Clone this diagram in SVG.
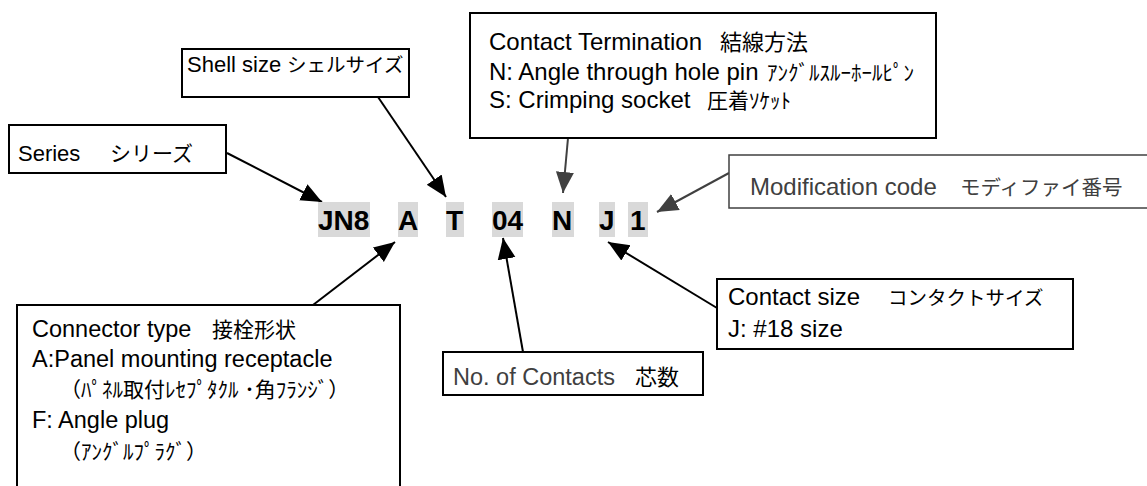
<svg xmlns="http://www.w3.org/2000/svg" width="1147" height="486" viewBox="0 0 1147 486">
<style>
text { font-family: "Liberation Sans", "Noto Sans CJK JP", sans-serif; font-size: 24px; fill: #000; }
.s22 { font-size: 22px; }
.s235 { font-size: 23.5px; }
.hw { font-size: 21px; }
.box { fill: #fff; stroke: #000; stroke-width: 2; }
.gbox { fill: #fff; stroke: #404040; stroke-width: 1.5; }
.gt { fill: #404040; }
.code { font-size: 28px; font-weight: bold; }
.hl { fill: #d9d9d9; }
.conn { stroke: #000; stroke-width: 2; fill: none; marker-end: url(#ah); }
.conng { stroke: #404040; stroke-width: 2; fill: none; marker-end: url(#ahg); }
</style>
<defs>
<marker id="ah" markerUnits="userSpaceOnUse" markerWidth="22" markerHeight="20" refX="21" refY="10" orient="auto"><path d="M0,1 L21,10 L0,19 Z" fill="#000"/></marker>
<marker id="ahg" markerUnits="userSpaceOnUse" markerWidth="22" markerHeight="20" refX="21" refY="10" orient="auto"><path d="M0,1 L21,10 L0,19 Z" fill="#404040"/></marker>
</defs>
<rect width="1147" height="486" fill="#fff"/>
<g id="connectors">
<line class="conn" x1="227" y1="153" x2="322" y2="202"/>
<line class="conn" x1="378" y1="97" x2="446" y2="197"/>
<line class="conng" x1="568" y1="138" x2="563" y2="193"/>
<line class="conng" x1="729" y1="173" x2="657" y2="212"/>
<line class="conn" x1="313" y1="305" x2="395" y2="242"/>
<line class="conn" x1="523" y1="352" x2="503" y2="238"/>
<line class="conn" x1="717" y1="308" x2="608" y2="242"/>
</g>
<g id="series">
<rect class="box" x="9" y="125" width="217" height="48"/>
<text class="s22" x="18" y="161">Series<tspan x="110" font-size="21">シリーズ</tspan></text>
</g>
<g id="shell">
<rect class="box" x="182" y="49" width="227" height="48"/>
<text class="s22" x="187" y="72">Shell size<tspan x="287" font-size="19.5">シェルサイズ</tspan></text>
</g>
<g id="termination">
<rect class="box" x="470" y="13" width="466" height="125"/>
<text x="489" y="50">Contact Termination<tspan x="720" font-size="22">結線方法</tspan></text>
<text x="489" y="80">N: Angle through hole pin<tspan class="hw" x="767">ｱﾝｸﾞﾙｽﾙｰﾎｰﾙﾋﾟﾝ</tspan></text>
<text x="489" y="108">S: Crimping socket<tspan class="hw" x="707">圧着ｿｹｯﾄ</tspan></text>
</g>
<g id="modification">
<rect class="gbox" x="729" y="155" width="430" height="53"/>
<text class="gt" x="750" y="195">Modification code<tspan x="960" font-size="20.5">モディファイ番号</tspan></text>
</g>
<g id="code">
<rect class="hl" x="318" y="202" width="52" height="35"/>
<rect class="hl" x="398" y="202" width="20" height="35"/>
<rect class="hl" x="446" y="202" width="18" height="35"/>
<rect class="hl" x="492" y="202" width="31" height="35"/>
<rect class="hl" x="552" y="202" width="22" height="35"/>
<rect class="hl" x="599" y="202" width="16" height="35"/>
<rect class="hl" x="628" y="202" width="20" height="35"/>
<text class="code" x="318" y="230">JN8</text>
<text class="code" x="398" y="230">A</text>
<text class="code" x="446" y="230">T</text>
<text class="code" x="492" y="230">04</text>
<text class="code" x="552" y="230">N</text>
<text class="code" x="599" y="230">J</text>
<text class="code" x="630" y="230">1</text>
</g>
<g id="contact-size">
<rect class="box" x="717" y="279" width="356" height="70"/>
<text x="728" y="305">Contact size<tspan x="888" font-size="19.5">コンタクトサイズ</tspan></text>
<text x="728" y="337">J: #18 size</text>
</g>
<g id="contacts">
<rect class="box" x="443" y="352" width="260" height="43"/>
<text class="gt s235" x="453" y="385">No. of Contacts<tspan x="635" font-size="22" fill="#000">芯数</tspan></text>
</g>
<g id="connector-type">
<rect class="box" x="17" y="305" width="383" height="190"/>
<text class="s235" x="32" y="337">Connector type<tspan x="212" font-size="21">接栓形状</tspan></text>
<text class="s235" x="32" y="367">A:Panel mounting receptacle</text>
<text class="hw" x="60" y="397">（ﾊﾟﾈﾙ取付ﾚｾﾌﾟﾀｸﾙ ･角ﾌﾗﾝｼﾞ）</text>
<text class="s235" x="32" y="428">F: Angle plug</text>
<text class="hw" x="60" y="459">（ｱﾝｸﾞﾙﾌﾟﾗｸﾞ）</text>
</g>
</svg>
